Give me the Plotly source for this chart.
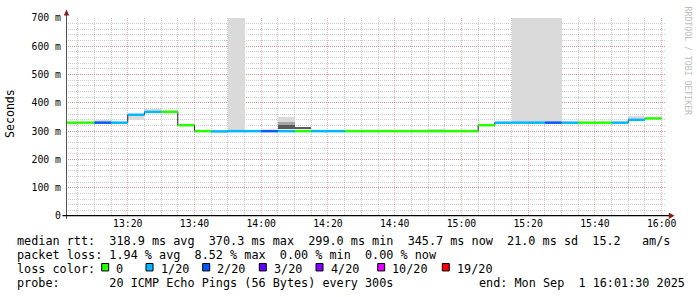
import plotly.graph_objects as go
from datetime import datetime, timedelta

DAY = "2025-09-01"

# ---- data -------------------------------------------------------------
interval_start = ["13:00", "13:05", "13:10", "13:15", "13:20", "13:25", "13:30", "13:35",
                  "13:40", "13:45", "13:50", "13:55", "14:00", "14:05", "14:10", "14:15",
                  "14:20", "14:25", "14:30", "14:35", "14:40", "14:45", "14:50", "14:55",
                  "15:00", "15:05", "15:10", "15:15", "15:20", "15:25", "15:30", "15:35",
                  "15:40", "15:45", "15:50", "15:55"]
median_ms = [330, 330, 330, 330, 358, 368, 368, 321,
             300, 299, 300, 300, 300, 300, 300, 300,
             300, 300, 300, 300, 300, 300, 300, 300,
             300, 321, 330, 330, 330, 330, 330, 330,
             330, 330, 340, 345]
loss_idx = [0, 0, 2, 1, 1, 1, 0, 0,
            0, 1, 1, 1, 2, 1, 0, 1,
            1, 0, 0, 0, 0, 0, 0, 0,
            0, 0, 1, 1, 1, 2, 1, 0,
            0, 1, 1, 0]

# smoke (ping spread) bands
light_start = ["13:10", "13:20", "13:25", "13:30", "13:50", "14:05", "14:50", "15:15", "15:20", "15:25", "15:50"]
light_lo = [330, 339, 368, 368, 299, 332, 300, 330, 330, 330, 340]
light_hi = [341, 358, 378, 376, 703, 349, 306, 703, 703, 703, 353]
mid_start = ["14:05"]
mid_lo = [323]
mid_hi = [332]
dark_start = ["14:05", "14:10"]
dark_lo = [306, 306]
dark_hi = [323, 314]

loss_labels = ["0", "1/20", "2/20", "3/20", "4/20", "10/20", "19/20"]
loss_colors = ["#26ff00", "#00b8ff", "#0059ff", "#5e00ff", "#7e00ff", "#dd00ff", "#ff0000"]

y_ticks = [0, 100, 200, 300, 400, 500, 600, 700]
y_ticktext = ["0", "100 m", "200 m", "300 m", "400 m", "500 m", "600 m", "700 m"]

stats_line1 = "median rtt:  318.9 ms avg  370.3 ms max  299.0 ms min  345.7 ms now  21.0 ms sd  15.2   am/s"
stats_line2 = "packet loss: 1.94 % avg  8.52 % max  0.00 % min  0.00 % now"
legend_title = "loss color:"
probe_text = "probe:       20 ICMP Echo Pings (56 Bytes) every 300s"
end_text = "end: Mon Sep  1 16:01:30 2025"
watermark = "RRDTOOL / TOBI OETIKER"

# ---- helpers ----------------------------------------------------------
STEP = timedelta(minutes=5)


def t(hm):
    return datetime.strptime(f"{DAY} {hm}", "%Y-%m-%d %H:%M")


W, H = 697, 297
L, R, T, B = 66, 32, 16, 81
PW, PH = W - L - R, H - T - B


def px(x):
    return (x - L) / PW


def py(y):
    return (H - B - y) / PH


MONO = "DejaVu Sans Mono"

fig = go.Figure()


def add_smoke(starts, lo, hi, color):
    fig.add_trace(go.Bar(
        x=[t(s) + STEP / 2 for s in starts],
        y=[h - l for l, h in zip(lo, hi)],
        base=lo,
        width=[STEP.total_seconds() * 1000] * len(starts),
        marker=dict(color=color, line=dict(width=0)),
        showlegend=False, hoverinfo="skip",
    ))


add_smoke(light_start, light_lo, light_hi, "#dadada")
add_smoke(mid_start, mid_lo, mid_hi, "#a6a6a6")
add_smoke(dark_start, dark_lo, dark_hi, "#5a5a5a")

# thin dark median step line
xs = [t(s) for s in interval_start] + [t(interval_start[-1]) + STEP]
ys = median_ms + [median_ms[-1]]
fig.add_trace(go.Scatter(x=xs, y=ys, mode="lines", line=dict(color="#202020", width=1, shape="hv"),
                         showlegend=False, hoverinfo="skip"))

# loss-coloured median segments
for li, col in enumerate(loss_colors):
    sx, sy = [], []
    for s, m, lv in zip(interval_start, median_ms, loss_idx):
        if lv == li:
            sx += [t(s), t(s) + STEP, None]
            sy += [m, m, None]
    if sx:
        fig.add_trace(go.Scatter(x=sx, y=sy, mode="lines", line=dict(color=col, width=2.5),
                                 connectgaps=False, showlegend=False, hoverinfo="skip"))

major_grid = "rgba(222,79,79,0.42)"
minor_grid = "rgba(143,143,143,0.45)"

fig.update_layout(
    width=W, height=H,
    margin=dict(l=L, r=R, t=T, b=B, pad=0),
    paper_bgcolor="white", plot_bgcolor="white",
    barmode="overlay", bargap=0,
    showlegend=False,
    font=dict(family=MONO, size=10, color="black"),
    xaxis=dict(
        type="date",
        range=[f"{DAY} 13:01:30", f"{DAY} 16:01:00"],
        tick0=f"{DAY} 13:00", dtick=20 * 60 * 1000, tickformat="%H:%M",
        showgrid=True, gridcolor=major_grid, griddash="1px,1px", gridwidth=1,
        minor=dict(dtick=5 * 60 * 1000, showgrid=True, gridcolor=minor_grid, griddash="1px,1px", gridwidth=1),
        ticks="", showline=False, zeroline=False,
        tickfont=dict(family=MONO, size=9.8, color="black"),
        fixedrange=True,
    ),
    yaxis=dict(
        range=[0, 700],
        tickvals=y_ticks, ticktext=y_ticktext,
        showgrid=True, gridcolor=major_grid, griddash="1px,1px", gridwidth=1,
        minor=dict(dtick=20, showgrid=True, gridcolor=minor_grid, griddash="1px,1px", gridwidth=1),
        ticks="", showline=False, zeroline=False,
        tickfont=dict(family=MONO, size=9.8, color="black"),
        ticklabelstandoff=4,
        fixedrange=True,
    ),
)

shapes = []
# y axis line + arrow
shapes.append(dict(type="line", xref="paper", yref="paper",
                   x0=px(66.5), x1=px(66.5), y0=py(219), y1=py(12),
                   line=dict(color="#555555", width=1)))
shapes.append(dict(type="path", xref="paper", yref="paper",
                   path=f"M {px(66.5)},{py(7.5)} L {px(63.8)},{py(13.5)} L {px(69.2)},{py(13.5)} Z",
                   fillcolor="#801f1f", line=dict(width=0)))
# x axis line + arrow
shapes.append(dict(type="line", xref="paper", yref="paper",
                   x0=px(62.5), x1=px(670), y0=py(215.7), y1=py(215.7),
                   line=dict(color="black", width=1.3)))
shapes.append(dict(type="path", xref="paper", yref="paper",
                   path=f"M {px(674.5)},{py(215.7)} L {px(668.8)},{py(212.5)} L {px(668.8)},{py(219)} Z",
                   fillcolor="#801f1f", line=dict(width=0)))

ann = []


def text(x, y, s, size=11.8, anchor="left", color="black", angle=0):
    ann.append(dict(x=px(x), y=py(y), xref="paper", yref="paper", showarrow=False,
                    text=s.replace(" ", "\u00a0"), xanchor=anchor, yanchor="middle",
                    textangle=angle, borderpad=0,
                    font=dict(family=MONO, size=size, color=color)))


text(16, 241, stats_line1)
text(16, 255.3, stats_line2)
text(16, 269.3, legend_title)
text(16, 283.7, probe_text)
text(478, 283.7, end_text)

box_x = [101.7, 146, 202.7, 259.3, 316, 377.7, 442.3]
for bx, lab, col in zip(box_x, loss_labels, loss_colors):
    shapes.append(dict(type="rect", xref="paper", yref="paper",
                       x0=px(bx), x1=px(bx + 7), y0=py(271.5), y1=py(264),
                       fillcolor=col, line=dict(color="black", width=1)))
    text(bx + 13.5, 269.3, lab)

text(10, 113, "Seconds", size=11.6, anchor="center", angle=-90)
ann.append(dict(x=px(688), y=py(59), xref="paper", yref="paper", showarrow=False,
                text=watermark.replace(" ", "\u00a0"), xanchor="center", yanchor="middle",
                textangle=90, font=dict(family=MONO, size=8.2, color="#bdbdbd")))

fig.update_layout(shapes=shapes, annotations=ann)
fig.write_html("out.html")
